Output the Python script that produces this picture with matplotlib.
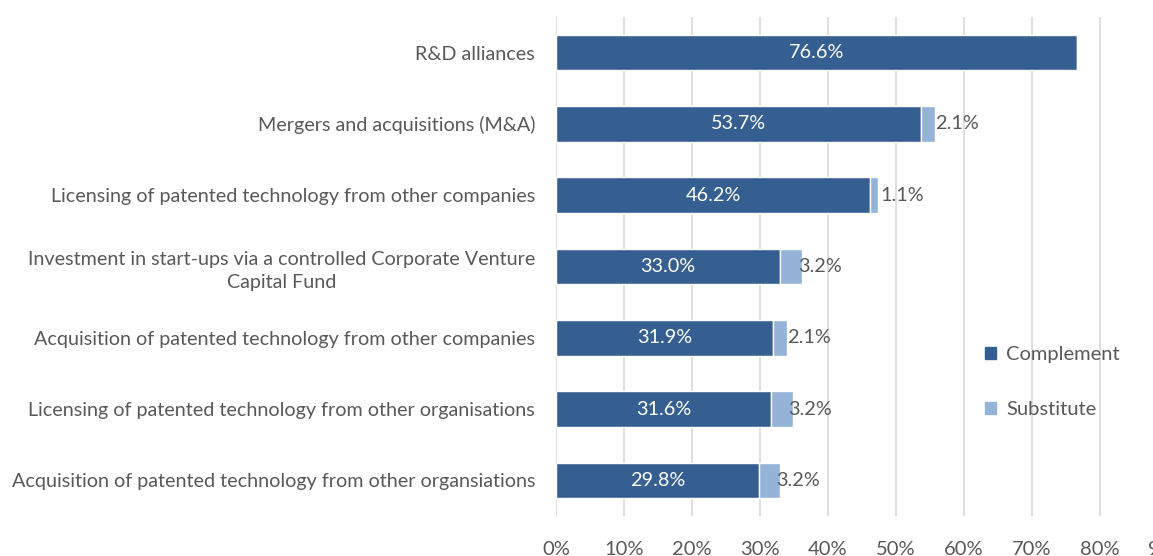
import matplotlib.pyplot as plt
from matplotlib.patches import Patch

categories = [
    "R&D alliances",
    "Mergers and acquisitions (M&A)",
    "Licensing of patented technology from other companies",
    "Investment in start-ups via a controlled Corporate Venture\nCapital Fund",
    "Acquisition of patented technology from other companies",
    "Licensing of patented technology from other organisations",
    "Acquisition of patented technology from other organsiations",
]
complement = [76.6, 53.7, 46.2, 33.0, 31.9, 31.6, 29.8]
substitute = [0.0, 2.1, 1.1, 3.2, 2.1, 3.2, 3.2]
xticks = [0, 10, 20, 30, 40, 50, 60, 70, 80, 90]

dark = "#365f91"
light = "#95b3d7"
txt = "#595959"

plt.rcParams["font.family"] = ["Lato", "DejaVu Sans"]

fig = plt.figure(figsize=(11.53, 5.56), dpi=100)
# axes deliberately runs past the right edge (the 90% tick is cut off)
ax = fig.add_axes([556 / 1153, 1 - 516 / 556, 612 / 1153, 499 / 556])

y = list(range(len(categories)))
ax.barh(y, complement, height=0.5, color=dark, edgecolor="white", linewidth=1, zorder=3)
ax.barh(y, substitute, left=complement, height=0.5, color=light,
        edgecolor="white", linewidth=1, zorder=3)

for i, (c, s) in enumerate(zip(complement, substitute)):
    ax.text(c / 2, i, f"{c:.1f}%", ha="center", va="center", color="white",
            fontsize=14.3, zorder=4)
    if s > 0:
        ax.annotate(f"{s:.1f}%", xy=(c + s / 2, i), xytext=(20.5, 0),
                    textcoords="offset points", ha="center", va="center",
                    color=txt, fontsize=14.3, zorder=4)

ax.set_ylim(len(categories) - 0.5, -0.5)
ax.set_xlim(0, 90)
ax.set_yticks(y)
ax.set_yticklabels(categories, fontsize=14.2, color=txt, ha="right",
                   multialignment="center", linespacing=1.45)
ax.tick_params(axis="y", length=0, pad=15)
ax.set_xticks(xticks)
ax.set_xticklabels([f"{t}%" for t in xticks], fontsize=14.5, color=txt)
ax.tick_params(axis="x", length=0, pad=18)

ax.grid(axis="x", color="#d9d9d9", linewidth=1.2, zorder=0)
for sp in ax.spines.values():
    sp.set_visible(False)

handles = [Patch(color=dark, label="Complement"), Patch(color=light, label="Substitute")]
fig.legend(handles=handles, loc="upper left", bbox_to_anchor=(967 / 1153, 1 - 328 / 556),
           frameon=False, fontsize=14.5, labelcolor=txt, handlelength=0.55,
           handleheight=0.55, handletextpad=0.5, labelspacing=1.9)

fig.savefig("out.png", dpi=100)
